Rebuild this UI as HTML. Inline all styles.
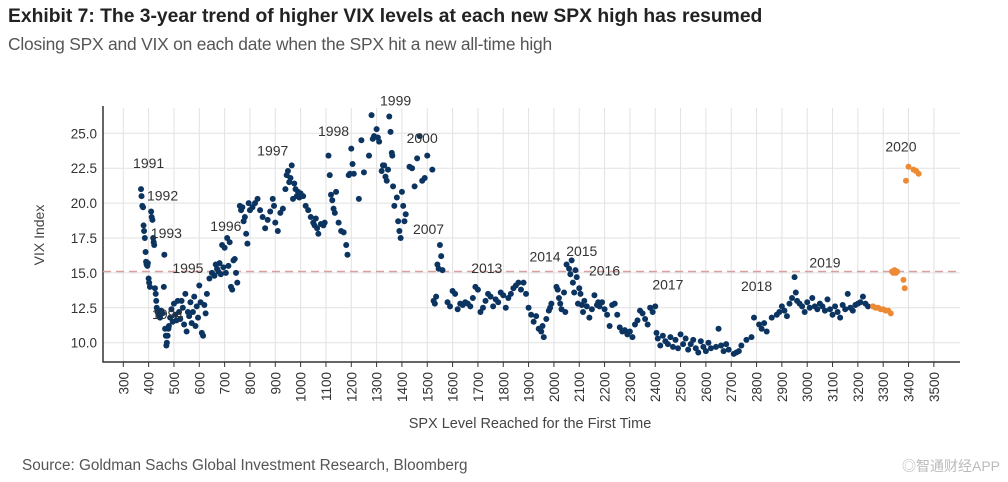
<!DOCTYPE html>
<html><head><meta charset="utf-8"><style>
body{margin:0;width:1008px;height:482px;background:#fff;overflow:hidden;font-family:"Liberation Sans","Noto Sans CJK SC",sans-serif}
.t{position:absolute;left:8px;top:6px;font-size:19.3px;font-weight:bold;color:#222}
.s{position:absolute;left:8px;top:34px;font-size:17.4px;color:#555;letter-spacing:-0.2px}
.src{position:absolute;left:22px;top:457px;font-size:15.3px;color:#555}
.wm{position:absolute;right:8px;top:456px;font-size:14px;color:#bbb}
svg{position:absolute;left:0;top:0}
</style></head><body>
<div class="t">Exhibit 7: The 3-year trend of higher VIX levels at each new SPX high has resumed</div>
<div class="s">Closing SPX and VIX on each date when the SPX hit a new all-time high</div>
<svg id="c" width="1008" height="482"></svg>
<div class="src">Source: Goldman Sachs Global Investment Research, Bloomberg</div>
<div class="wm">◎智通财经APP</div>
<script>
const xTicks=[300,400,500,600,700,800,900,1000,1100,1200,1300,1400,1500,1600,1700,1800,1900,2000,2100,2200,2300,2400,2500,2600,2700,2800,2900,3000,3100,3200,3300,3400,3500];
const yTicks=[10,12.5,15,17.5,20,22.5,25];
const blueSpx=[370,372,375,378,380,382,385,388,390,392,395,397,400,402,405,
410,412,415,418,420,422,425,428,430,432,435,440,445,450,455,460,462,465,468,470,472,475,478,480,
485,490,495,500,505,510,515,520,525,530,535,540,545,550,555,560,565,570,575,580,585,590,595,600,605,610,615,620,625,
630,640,650,660,665,670,675,680,685,690,695,700,705,710,715,720,725,730,735,740,745,750,
760,765,770,775,780,785,790,795,800,810,820,830,840,850,860,870,880,890,895,900,910,920,930,
940,945,950,955,960,965,970,975,980,985,990,995,1000,1010,1020,1030,1040,1050,1055,1060,1065,1070,1080,1090,1095,
1110,1115,1120,1125,1130,1135,1140,1150,1160,1170,1180,1185,1190,1195,1200,1205,1210,1230,1240,1250,1270,1280,1285,1290,
1300,1305,1310,1320,1325,1330,1335,1340,1345,1350,1355,1360,1362,1365,1370,1380,1385,1390,1395,1400,1405,1410,1415,
1430,1440,1450,1460,1470,1480,1490,1500,1520,1525,1530,1535,1540,1545,1550,1555,1560,
1580,1590,1600,1610,1620,1630,1640,1650,1660,1670,1680,1690,1700,1710,1720,1730,1740,1750,1760,1770,1780,1790,1800,1810,1820,1830,1840,1850,1860,1870,1880,1890,
1900,1910,1920,1930,1940,1950,1955,1960,1970,1980,1985,1990,
2010,2015,2020,2025,2030,2040,2045,2050,2060,2065,2070,2075,2080,2085,2090,2095,2100,2105,
2110,2115,2120,2130,2140,2150,2160,2170,2175,2180,2190,
2200,2210,2220,2230,2240,2250,2260,2270,2280,2290,2300,2310,2320,2330,2340,2350,2360,2370,2380,2390,2400,
2405,2410,2420,2430,2440,2450,2460,2470,2480,2490,2500,2510,2520,2530,2540,2550,2560,2570,2580,2590,2600,2610,2620,2640,2650,2660,2670,2680,2690,
2710,2720,2730,2740,2760,2780,2790,
2810,2820,2830,2840,2860,2880,2890,2900,2910,2920,2930,2940,2950,2955,2960,2970,2980,
2990,3000,3010,3020,3030,3040,3050,3060,3070,3080,3090,3100,3110,3120,3130,3140,3150,3160,3170,3180,3190,3200,3210,3220,3230,3240];
const blueVix=[21,20.5,19.8,19.7,18.4,18,17.5,16.5,15.8,15.6,15.5,15.7,14.6,14.3,14,
19.4,19,18.8,17.5,17.2,17,13.9,13.5,13,12.5,12.2,12,11.8,12.3,12.1,14,16.3,11,10.5,9.8,10,10.5,11,11.2,
11.8,12.4,11.5,12.8,12,11.6,13,12.2,11.7,13,12.5,11.3,13.5,10.8,12.2,11.9,12.9,11.4,12.2,13.3,11.2,12.6,11.8,14.1,12.9,10.7,10.5,12.7,12.1,
13.5,14.6,15,14.8,15.6,15.3,15.1,15.7,14.9,17,15.4,16.8,15,17.5,15.5,17.2,14,13.8,15.9,16,15,14.3,
19.8,19.5,19.7,18.7,19,17.8,17.1,20,19.5,19.7,20,20.3,19.5,19,18.2,18.8,19.4,20.3,19.8,18.6,18,19.3,19.6,
21,22,22.3,21.5,21.8,22.7,20.3,21.4,21,20.5,20.8,20.4,20.7,20.5,19.8,19.5,19,18.6,18.4,18.9,18.2,17.8,18.5,18.4,18.6,
23.4,22,20.6,20.2,19.6,19.3,20.8,18.6,18,17.9,17,16.3,22,22.1,23.9,22.8,22.1,20.3,24.5,22.2,23.4,26.3,24.6,24.8,
25.3,24.7,24.4,22.3,22.7,22.7,21.9,21.6,22.4,26.2,25.1,23.6,23.4,21.2,19.8,20.4,18.7,18,17.5,20.8,19.8,18.7,19.2,
22.6,22.5,21.2,23.2,24.8,21.6,21.8,23.4,22.4,13,12.8,13.3,15.6,15.3,17,16.2,15.2,
12.9,12.6,13.7,13.5,12.4,12.8,12.7,12.9,12.8,12.6,13.2,14,13.8,12.2,12.5,13,13.5,13.3,12.6,13.1,12.9,13.6,13.4,12.5,13.2,13.5,13.9,14.1,14.3,13.8,14.3,13.5,
12.5,12,11.5,11.9,11,10.8,11.2,10.4,11.7,12.3,12.5,12.8,
14,13.8,13.2,12.8,12.4,13.6,12.2,15.6,15.3,14.9,15.9,14.3,13.6,15.2,14.7,12.8,13.9,13.5,
12.7,12.2,13,12.6,11.8,12.4,13.4,12.7,12.9,12.6,12.9,
12.4,12,11.2,12.7,12.8,12,11.1,10.8,10.9,10.6,10.8,10.4,11.3,11.6,12.3,12.1,11.7,11.3,12.5,12.2,12.6,
10.7,10.3,9.8,10.5,10.1,9.9,10.4,9.7,10.2,9.6,10.6,9.9,10.3,9.5,9.9,10.2,9.6,9.3,10.1,9.7,9.4,10,9.6,9.7,11,9.8,9.4,9.9,9.5,
9.2,9.3,9.4,9.8,10.2,10.4,11.8,
11.3,11,11.4,10.8,11.8,12,12.2,12.6,12.3,11.9,12.8,13.2,14.7,13.6,13,12.8,12.6,
12.2,12.9,12.5,13.2,12.6,12.4,12.8,12.6,12.3,13.1,12.4,12,12.6,12.2,11.8,12.7,12.4,13.5,12.5,12.3,12.7,12.8,12.9,13.3,12.8,12.6];
const orSpx=[3260,3270,3280,3290,3300,3310,3320,3330,3335,3340,3345,3350,3355,3380,3385,3390,3400,3420,3430,3440];
const orVix=[12.6,12.5,12.5,12.4,12.4,12.3,12.3,12.1,15.1,15,15.2,15,15.1,14.5,13.9,21.6,22.6,22.4,22.3,22.1];
const yearLabels=["1991","1992","1993","1994","1995","1996","1997","1998","1999","2000","2007","2013","2014","2015","2016","2017","2018","2019","2020"];
const yearSpx=[400,455,470,475,555,705,890,1130,1375,1480,1505,1735,1965,2110,2200,2450,2800,3070,3370];
const yearVix=[22.5,20.2,17.5,11.7,15.0,18.0,23.4,24.8,27.0,24.3,17.8,15.0,15.8,16.2,14.8,13.8,13.7,15.4,23.7];

const X=v=>123.3+(v-300)*0.2533, Y=v=>133.3+(25-v)*13.96;
const svg=document.getElementById('c'),NS='http://www.w3.org/2000/svg';
function mk(t,a,txt){const e=document.createElementNS(NS,t);for(const k in a)e.setAttribute(k,a[k]);if(txt!=null)e.textContent=txt;svg.appendChild(e);return e;}
const L=103,R=960,T=108,B=362;
xTicks.forEach(v=>{const g=mk('line',{x1:X(v),x2:X(v),y1:T,y2:B,stroke:'#e2e2e2'});

const t=mk('line',{x1:X(v),x2:X(v),y1:B,y2:B+5,stroke:'#333'});

const l=mk('text',{x:X(v)+5,y:B+10,transform:`rotate(-90 ${X(v)+5} ${B+10})`,'text-anchor':'end','font-size':13.5,fill:'#333'},v);
});
yTicks.forEach(v=>{const g=mk('line',{x1:L,x2:R,y1:Y(v),y2:Y(v),stroke:'#e2e2e2'});

const l=mk('text',{x:97,y:Y(v)+5,'text-anchor':'end','font-size':13.5,fill:'#333'},v.toFixed(1));
});
const ax=mk('path',{d:`M${L} ${T-2}V${B}H${R}`,fill:'none',stroke:'#333','stroke-width':1.5});

const ref=mk('line',{x1:L,x2:R,y1:Y(15.1),y2:Y(15.1),stroke:'#d9a0a0','stroke-width':1.5,'stroke-dasharray':'8,5'});

blueSpx.forEach((s,i)=>{const c=mk('circle',{cx:X(s),cy:Y(blueVix[i]),r:3,fill:'#0c3460'});
});
orSpx.forEach((s,i)=>{const c=mk('circle',{cx:X(s),cy:Y(orVix[i]),r:3,fill:'#ec8a35'});
});
yearLabels.forEach((y,i)=>{const t=mk('text',{x:X(yearSpx[i]),y:Y(yearVix[i]),'text-anchor':'middle','font-size':14,fill:'#333'},y);
});
const yt=mk('text',{x:44,y:235,transform:'rotate(-90 44 235)','text-anchor':'middle','font-size':14,fill:'#444'},'VIX Index');

const xt=mk('text',{x:530,y:428,'text-anchor':'middle','font-size':14.5,fill:'#444'},'SPX Level Reached for the First Time');

</script>
</body></html>
